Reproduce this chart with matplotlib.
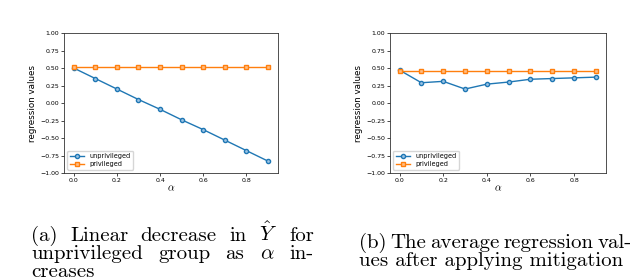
import numpy as np
import matplotlib
matplotlib.use("Agg")
import matplotlib.pyplot as plt

plt.rcParams["mathtext.fontset"] = "cm"

alpha = [0.0, 0.1, 0.2, 0.3, 0.4, 0.5, 0.6, 0.7, 0.8, 0.9]

# (a) no mitigation
unpriv_a = [0.50, 0.35, 0.20, 0.05, -0.09, -0.24, -0.38, -0.53, -0.68, -0.83]
priv_a = [0.52, 0.52, 0.52, 0.52, 0.52, 0.52, 0.52, 0.52, 0.52, 0.52]

# (b) after mitigation
unpriv_b = [0.47, 0.29, 0.31, 0.20, 0.27, 0.30, 0.34, 0.35, 0.36, 0.37]
priv_b = [0.46, 0.46, 0.46, 0.46, 0.46, 0.46, 0.46, 0.46, 0.46, 0.46]

caption_a = [r"(a) Linear decrease in $\hat{Y}$ for",
             r"unprivileged group as $\alpha$ in-",
             "creases"]
caption_b = ["(b) The average regression val-",
             "ues after applying mitigation"]

fig = plt.figure(figsize=(6.4, 2.8), dpi=100)
ax_a = fig.add_axes([0.100, 0.382, 0.334, 0.500])
ax_b = fig.add_axes([0.609, 0.382, 0.3375, 0.500])


def draw_panel(ax, unpriv, priv):
    ax.plot(alpha, unpriv, color="#1f77b4", marker="o", markersize=3,
            markerfacecolor="#9cc3e4", linewidth=1, label="unprivileged")
    ax.plot(alpha, priv, color="#ff7f0e", marker="s", markersize=3,
            markerfacecolor="#ffbf86", linewidth=1, label="privileged")
    ax.set_ylim(-1.0, 1.0)
    ax.set_yticks(np.arange(-1.0, 1.01, 0.25))
    ax.set_xticks([0.0, 0.2, 0.4, 0.6, 0.8])
    ax.tick_params(labelsize=4.5, length=2, width=0.5, pad=1.5)
    ax.set_ylabel("regression values", fontsize=6.3, labelpad=2)
    ax.set_xlabel(r"$\alpha$", fontsize=7.5, labelpad=0)
    for s in ax.spines.values():
        s.set_linewidth(0.6)
        s.set_color("#333333")
    ax.legend(loc="lower left", fontsize=4.7, handlelength=2.2,
              borderpad=0.4, labelspacing=0.3, framealpha=0.8)


draw_panel(ax_a, unpriv_a, priv_a)
draw_panel(ax_b, unpriv_b, priv_b)

fig.canvas.draw()
renderer = fig.canvas.get_renderer()


def justified(line, x0, x1, y, justify=True):
    # spread the words between x0 and x1 (pixels), like the latex caption
    words = line.split(" ")
    kw = dict(fontsize=15, family="cmr10", va="baseline", ha="left")
    if not justify or len(words) == 1:
        fig.text(x0 / 640, 1 - y / 280, line, **kw)
        return
    texts = [fig.text(0, 0, w, **kw) for w in words]
    widths = [t.get_window_extent(renderer).width for t in texts]
    gap = (x1 - x0 - sum(widths)) / (len(words) - 1)
    x = x0
    for t, w in zip(texts, widths):
        t.set_position((x / 640, 1 - y / 280))
        x += w + gap


justified(caption_a[0], 31, 314, 241)
justified(caption_a[1], 31, 314, 259)
justified(caption_a[2], 31, 314, 277, justify=False)
justified(caption_b[0], 359, 632, 248)
justified(caption_b[1], 359, 632, 266, justify=False)

fig.savefig("out.png", dpi=100)
